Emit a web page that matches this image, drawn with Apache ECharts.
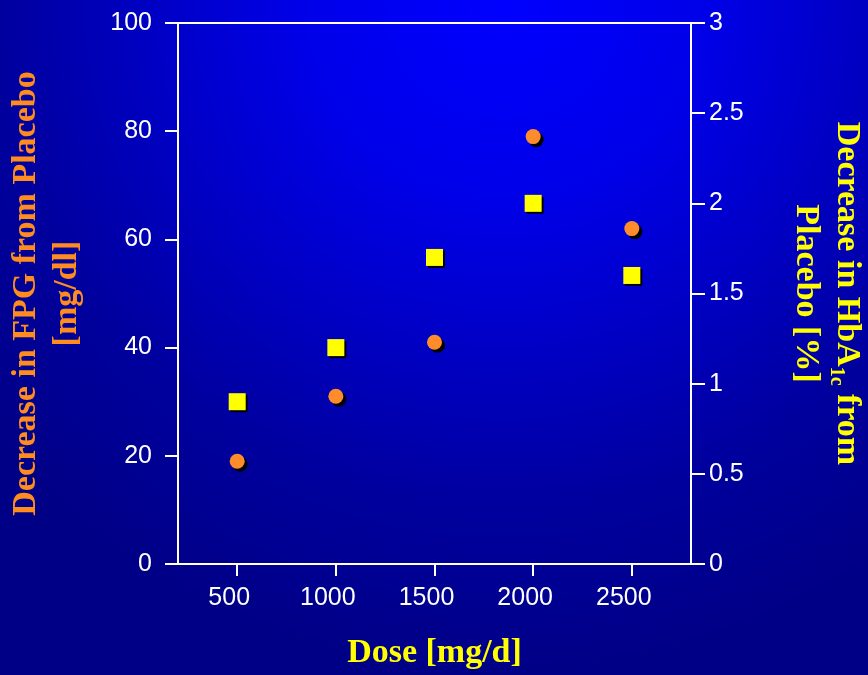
<!DOCTYPE html>
<html>
<head>
<meta charset="utf-8">
<script src="https://cdn.jsdelivr.net/npm/echarts@6/dist/echarts.min.js"></script>
<style>
  html, body { margin: 0; padding: 0; }
  #chart { width: 868px; height: 675px; }
</style>
</head>
<body>
<div id="chart"></div>
<script>
// dose levels and results
var doses = [500, 1000, 1500, 2000, 2500];
var fpgDecrease = [19, 31, 41, 79, 62];       // mg/dl, left axis
var hba1cDecrease = [0.9, 1.2, 1.7, 2.0, 1.6]; // %, right axis
var doseTicks = [500, 1000, 1500, 2000, 2500];

var shadowText = {
    textShadowColor: '#000',
    textShadowBlur: 0,
    textShadowOffsetX: 2,
    textShadowOffsetY: 2
};

function pairs(xs, ys) {
    var out = [];
    for (var i = 0; i < xs.length; i++) out.push([xs[i], ys[i]]);
    return out;
}

function labelStyle(extra) {
    var s = {
        color: '#fff',
        fontFamily: 'Liberation Sans, Arial, sans-serif',
        fontSize: 25,
        formatter: function (v) { return String(v); }
    };
    for (var k in shadowText) s[k] = shadowText[k];
    for (var k2 in extra) s[k2] = extra[k2];
    return s;
}

function nameStyle(color, extra) {
    var s = {
        color: color,
        fontFamily: 'Liberation Serif, Times New Roman, serif',
        fontWeight: 'bold',
        fontSize: 34,
        lineHeight: 41
    };
    for (var k in shadowText) s[k] = shadowText[k];
    s.textShadowOffsetX = 3;
    s.textShadowOffsetY = 3;
    for (var k2 in extra) s[k2] = extra[k2];
    return s;
}

var white = { color: '#fff', width: 2 };

var option = {
    backgroundColor: {
        type: 'radial', x: 0.58, y: 0, r: 1,
        colorStops: [
            { offset: 0, color: '#0000ff' },
            { offset: 0.3, color: '#0000e8' },
            { offset: 0.5, color: '#0000c8' },
            { offset: 0.75, color: '#00009e' },
            { offset: 1, color: '#000086' }
        ]
    },
    grid: {
        left: 178, right: 177, top: 23, bottom: 111,
        outerBoundsMode: 'none',
        containLabel: false,
        show: true, borderColor: '#fff', borderWidth: 2,
        backgroundColor: 'transparent'
    },
    xAxis: {
        type: 'value', min: 200, max: 2800,
        name: 'Dose [mg/d]', nameLocation: 'middle', nameGap: 69,
        nameTextStyle: nameStyle('#ffff00'),
        axisLine: { show: true, lineStyle: white },
        axisTick: { show: true, length: 12, lineStyle: white, customValues: doseTicks },
        axisLabel: labelStyle({ margin: 22, padding: [0, 16, 0, 0], customValues: doseTicks }),
        splitLine: { show: false }
    },
    yAxis: [{
        type: 'value', min: 0, max: 100, interval: 20, position: 'left',
        name: 'Decrease in FPG from Placebo\n[mg/dl]',
        nameLocation: 'middle', nameGap: 90,
        nameTextStyle: nameStyle('#ff8c1e'),
        axisLine: { show: true, lineStyle: white },
        axisTick: { show: true, length: 13, lineStyle: white },
        axisLabel: labelStyle({ margin: 26 }),
        splitLine: { show: false }
    }, {
        type: 'value', min: 0, max: 3, interval: 0.5, position: 'right',
        name: '{a|Decrease in HbA}{s|1c}{a| from}\n{a|Placebo [%]}',
        nameLocation: 'middle', nameGap: 94, nameRotate: -90,
        nameTextStyle: nameStyle('#ffff00', {
            rich: {
                a: nameStyle('#ffff00'),
                s: nameStyle('#ffff00', { fontSize: 20, lineHeight: 10, verticalAlign: 'bottom' })
            }
        }),
        axisLine: { show: true, lineStyle: white },
        axisTick: { show: true, length: 14, lineStyle: white },
        axisLabel: labelStyle({ margin: 18 }),
        splitLine: { show: false }
    }],
    series: [{
        name: 'FPG',
        type: 'scatter',
        yAxisIndex: 0,
        symbol: 'circle',
        symbolSize: 15,
        itemStyle: {
            color: '#ff8c2a', opacity: 1,
            shadowColor: '#000', shadowBlur: 0, shadowOffsetX: 3, shadowOffsetY: 3
        },
        data: pairs(doses, fpgDecrease)
    }, {
        name: 'HbA1c',
        type: 'scatter',
        yAxisIndex: 1,
        symbol: 'rect',
        symbolSize: 17,
        itemStyle: {
            color: '#ffff00', opacity: 1,
            shadowColor: '#000', shadowBlur: 0, shadowOffsetX: 2, shadowOffsetY: 2
        },
        data: pairs(doses, hba1cDecrease)
    }]
};

var chart = echarts.init(document.getElementById('chart'));
chart.setOption(option);
</script>
</body>
</html>
